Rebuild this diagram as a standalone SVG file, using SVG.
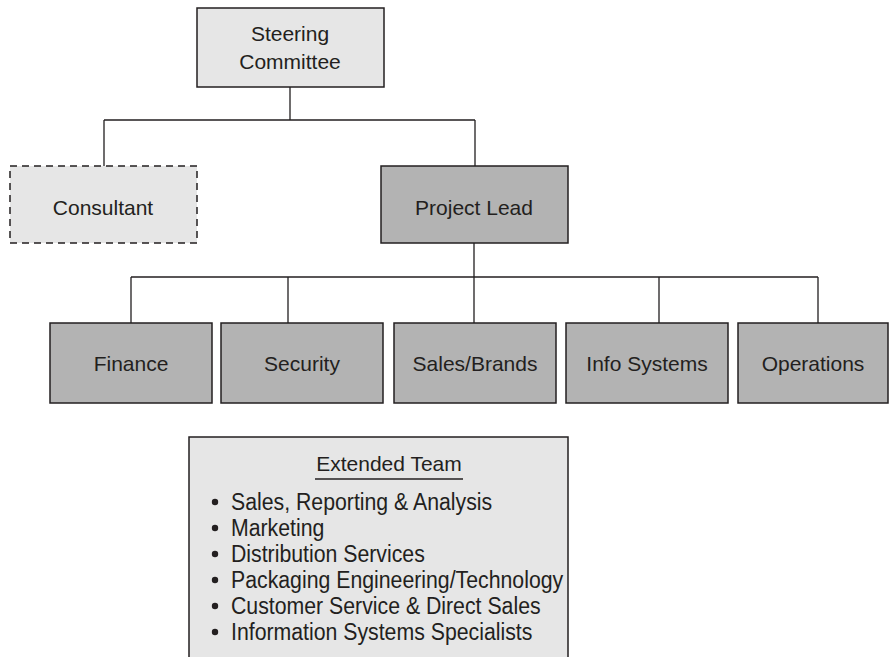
<svg xmlns="http://www.w3.org/2000/svg" width="890" height="657" viewBox="0 0 890 657">
<style>
.box{stroke:#231f20;stroke-width:1.5}
.light{fill:#e6e6e6}
.dark{fill:#b3b3b3}
.dash{stroke-dasharray:7,5}
.lbl{font-family:"Liberation Sans",Arial,sans-serif;font-size:21px;fill:#231f20;text-anchor:middle}
.lst{font-family:"Liberation Sans",Arial,sans-serif;font-size:23.5px;fill:#231f20}
.con{stroke:#231f20;stroke-width:1.3;fill:none}
</style>
<rect width="890" height="657" fill="#fff"/>
<g id="connectors">
<path class="con" d="M290 87V120M104 120H475M104 120V166M475 120V166"/>
<path class="con" d="M474 243V277M131 277H818M131 277V323M288 277V323M474 277V323M659 277V323M818 277V323"/>
</g>
<g id="steering"><rect class="box light" x="197" y="8" width="187" height="79"/><text class="lbl" x="290" y="41">Steering</text><text class="lbl" x="290" y="69">Committee</text></g>
<g id="consultant"><rect class="box light dash" x="10" y="166" width="187" height="77"/><text class="lbl" x="103" y="215">Consultant</text></g>
<g id="projectlead"><rect class="box dark" x="381" y="166" width="187" height="77"/><text class="lbl" x="474" y="215">Project Lead</text></g>
<g id="finance"><rect class="box dark" x="50" y="323" width="162" height="80"/><text class="lbl" x="131" y="371">Finance</text></g>
<g id="security"><rect class="box dark" x="221" y="323" width="162" height="80"/><text class="lbl" x="302" y="371">Security</text></g>
<g id="salesbrands"><rect class="box dark" x="394" y="323" width="162" height="80"/><text class="lbl" x="475" y="371">Sales/Brands</text></g>
<g id="infosystems"><rect class="box dark" x="566" y="323" width="162" height="80"/><text class="lbl" x="647" y="371">Info Systems</text></g>
<g id="operations"><rect class="box dark" x="738" y="323" width="150" height="80"/><text class="lbl" x="813" y="371">Operations</text></g>
<g id="extended">
<rect class="box light" x="189" y="437" width="379" height="240"/>
<text class="lbl" x="389" y="471">Extended Team</text>
<line x1="315" y1="479" x2="463" y2="479" stroke="#231f20" stroke-width="1.3"/>
<g fill="#231f20">
<circle cx="215" cy="502" r="3.2"/><circle cx="215" cy="528" r="3.2"/><circle cx="215" cy="554" r="3.2"/>
<circle cx="215" cy="580" r="3.2"/><circle cx="215" cy="606" r="3.2"/><circle cx="215" cy="632" r="3.2"/>
</g>
<g class="lst" transform="matrix(0.905,0,0,1,231,0)">
<text x="0" y="510">Sales, Reporting &amp; Analysis</text>
<text x="0" y="536">Marketing</text>
<text x="0" y="562">Distribution Services</text>
<text x="0" y="588">Packaging Engineering/Technology</text>
<text x="0" y="614">Customer Service &amp; Direct Sales</text>
<text x="0" y="640">Information Systems Specialists</text>
</g>
</g>
</svg>
